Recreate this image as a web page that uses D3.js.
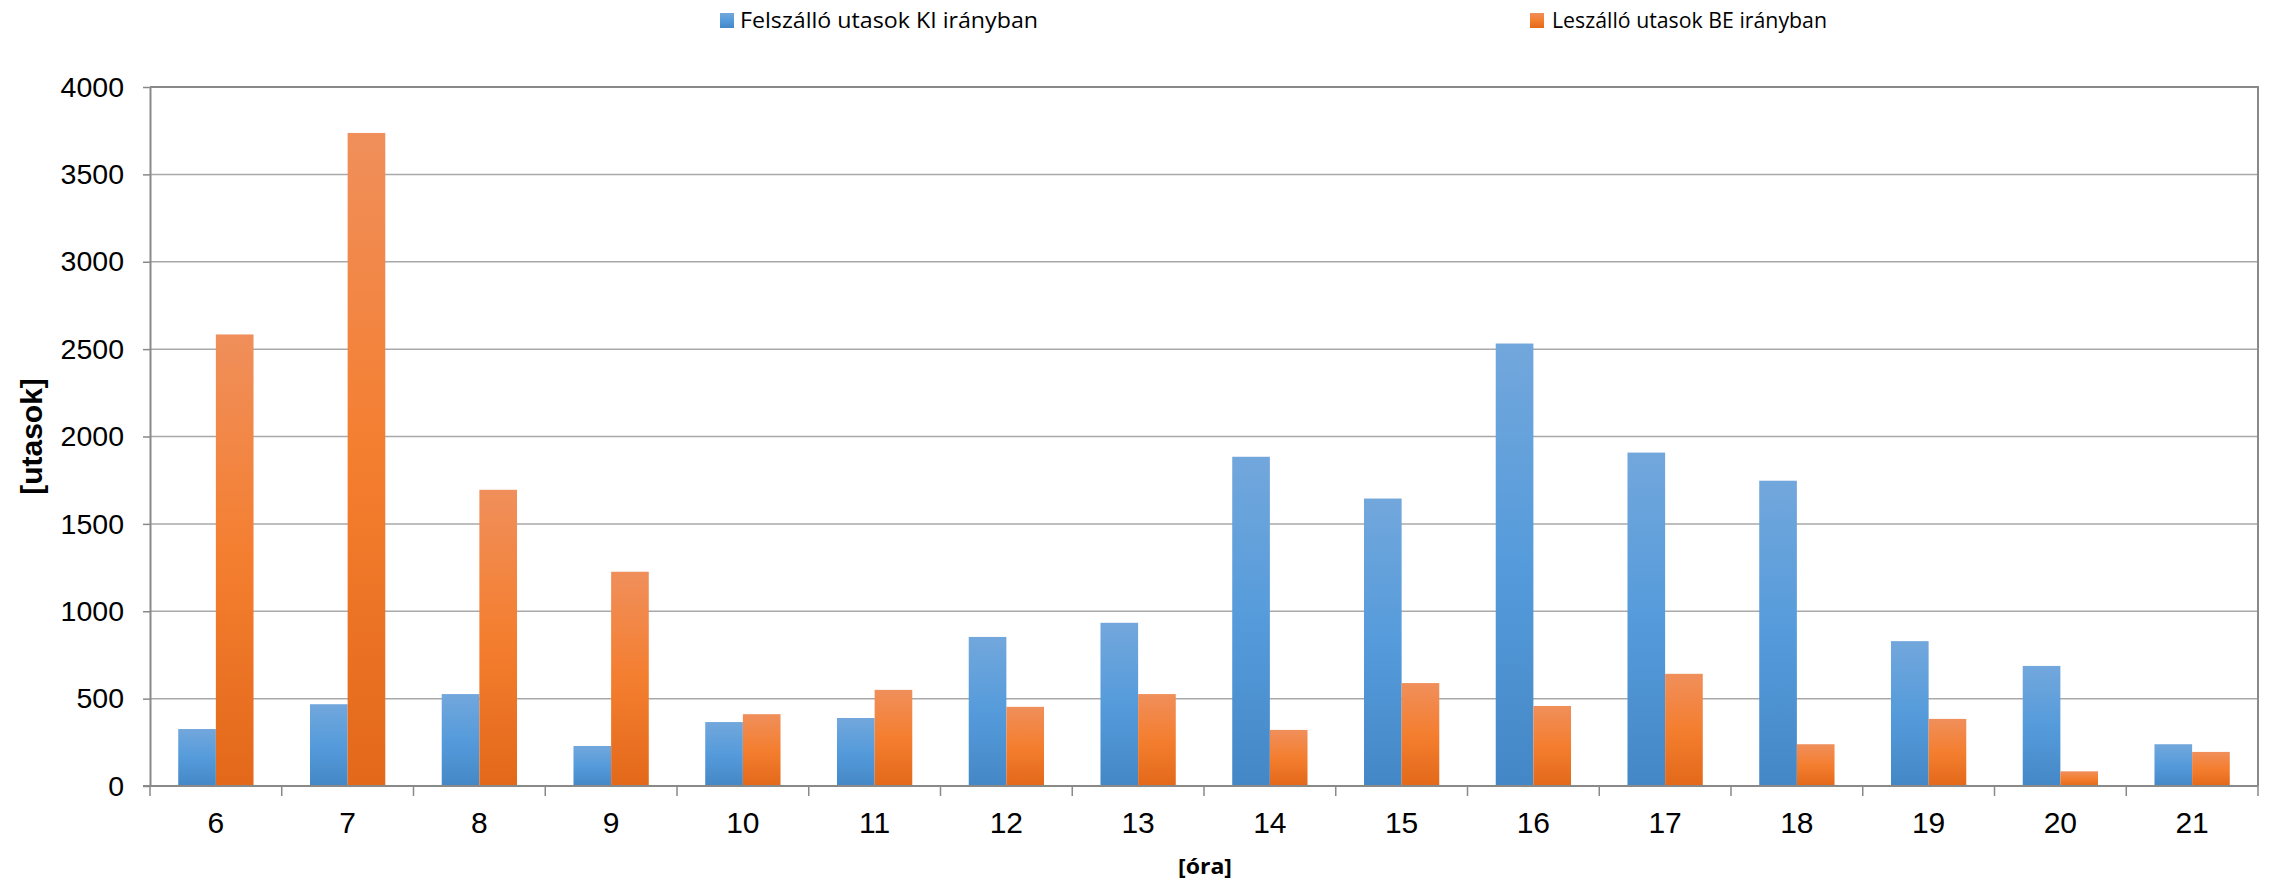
<!DOCTYPE html>
<html>
<head>
<meta charset="utf-8">
<script src="https://cdn.jsdelivr.net/npm/d3@7"></script>
<style>
  html, body { margin: 0; padding: 0; background: #ffffff; }
  svg { display: block; }
</style>
</head>
<body>
<svg id="chart" width="2277" height="885"></svg>
<script>
// Hourly passenger counts, boarding outbound vs. alighting inbound
const hours = ["6", "7", "8", "9", "10", "11", "12", "13", "14", "15", "16", "17", "18", "19", "20", "21"];
const boardingOut = [326, 468, 526, 229, 366, 389, 853, 934, 1884, 1645, 2532, 1908, 1747, 829, 687, 239];
const alightingIn = [2584, 3737, 1695, 1226, 411, 550, 453, 526, 321, 589, 458, 642, 239, 384, 84, 195];
const seriesNames = ["Felszálló utasok KI irányban", "Leszálló utasok BE irányban"];
const yTicks = [0, 500, 1000, 1500, 2000, 2500, 3000, 3500, 4000];

const svg = d3.select("#chart");
const plot = { left: 150, right: 2258, top: 87, bottom: 786 };

// Gradient fills for each series (light at the top, darker at the base)
const defs = svg.append("defs");
const gradStops = [
  [["0%", "#72a7dc"], ["50%", "#559bdb"], ["100%", "#4487c6"]],
  [["0%", "#f08f5b"], ["50%", "#f47e2f"], ["100%", "#e3681a"]]
];
gradStops.forEach((stops, i) => {
  const g = defs.append("linearGradient")
    .attr("id", "grad" + i)
    .attr("x1", 0).attr("y1", 0).attr("x2", 0).attr("y2", 1);
  stops.forEach(s => g.append("stop").attr("offset", s[0]).attr("stop-color", s[1]));
});

const y = d3.scaleLinear().domain([0, 4000]).range([plot.bottom, plot.top]);

// Category slots (no padding) for ticks and labels
const xSlot = d3.scaleBand().domain(hours).range([plot.left, plot.right]).padding(0);
// Bar groups: gap width of 150% of one bar
const xGroup = d3.scaleBand().domain(hours).range([plot.left, plot.right])
  .paddingInner(1.5 / 3.5).paddingOuter(0.75 / 3.5);
const xSeries = d3.scaleBand().domain([0, 1]).range([0, xGroup.bandwidth()]).padding(0);

// Horizontal gridlines
svg.append("g")
  .selectAll("line")
  .data(yTicks.filter(t => t > 0 && t < 4000))
  .join("line")
  .attr("x1", plot.left).attr("x2", plot.right)
  .attr("y1", d => y(d)).attr("y2", d => y(d))
  .attr("stroke", "#a9a9a9").attr("stroke-width", 1.5);

// Bars
const series = [boardingOut, alightingIn];
series.forEach((vals, si) => {
  svg.append("g")
    .selectAll("rect")
    .data(vals)
    .join("rect")
    .attr("x", (d, i) => xGroup(hours[i]) + xSeries(si))
    .attr("y", d => y(d))
    .attr("width", xSeries.bandwidth())
    .attr("height", d => y(0) - y(d))
    .attr("fill", "url(#grad" + si + ")");
});

// Plot frame (top and right edges)
svg.append("path")
  .attr("d", `M${plot.left},${y(4000)}H${plot.right}V${plot.bottom}`)
  .attr("fill", "none").attr("stroke", "#898989").attr("stroke-width", 2);

// Y axis
const yAxis = d3.axisLeft(y).tickValues(yTicks).tickFormat(d3.format("d"))
  .tickSize(7).tickPadding(19).tickSizeOuter(0);
const gy = svg.append("g").attr("transform", `translate(${plot.left},0)`).call(yAxis);
gy.select(".domain").attr("stroke", "#898989").attr("stroke-width", 2);
gy.selectAll(".tick line").attr("stroke", "#898989").attr("stroke-width", 1.5);
gy.selectAll(".tick text")
  .attr("font-family", "'Liberation Sans', Arial, sans-serif")
  .attr("font-size", 28.5).attr("fill", "#000");

// X axis: labels centred in each slot, ticks on the slot boundaries
const xAxis = d3.axisBottom(xSlot).tickSize(0).tickPadding(26).tickSizeOuter(0);
const gx = svg.append("g").attr("transform", `translate(0,${plot.bottom})`).call(xAxis);
gx.select(".domain").remove();
gx.selectAll(".tick text")
  .attr("font-family", "'Liberation Sans', Arial, sans-serif")
  .attr("font-size", 30).attr("fill", "#000");

const boundaries = hours.map(h => xSlot(h)).concat([plot.right]);
svg.append("g")
  .selectAll("line")
  .data(boundaries)
  .join("line")
  .attr("x1", d => d).attr("x2", d => d)
  .attr("y1", plot.bottom).attr("y2", plot.bottom + 10)
  .attr("stroke", "#898989").attr("stroke-width", 1.5);
svg.append("line")
  .attr("x1", plot.left - 7).attr("x2", plot.right)
  .attr("y1", plot.bottom).attr("y2", plot.bottom)
  .attr("stroke", "#898989").attr("stroke-width", 2);

// Axis titles
svg.append("text")
  .attr("transform", `translate(42,${(plot.top + plot.bottom) / 2}) rotate(-90)`)
  .attr("text-anchor", "middle")
  .attr("font-family", "'Liberation Sans', Arial, sans-serif")
  .attr("font-weight", "bold").attr("font-size", 30)
  .text("[utasok]");

svg.append("text")
  .attr("x", 1205).attr("y", 874)
  .attr("text-anchor", "middle")
  .attr("font-family", "'Open Sans', 'Noto Sans', sans-serif")
  .attr("font-weight", "bold").attr("font-size", 21)
  .attr("textLength", 54).attr("lengthAdjust", "spacingAndGlyphs")
  .text("[óra]");

// Legend
const legendItems = [
  { marker: 720, text: 740, width: 298 },
  { marker: 1530, text: 1552, width: 275 }
];
legendItems.forEach((it, i) => {
  svg.append("rect")
    .attr("x", it.marker).attr("y", 13).attr("width", 14).attr("height", 15)
    .attr("fill", "url(#grad" + i + ")");
  svg.append("text")
    .attr("x", it.text).attr("y", 28)
    .attr("font-family", "'Open Sans', 'Noto Sans', sans-serif")
    .attr("font-size", 21)
    .attr("textLength", it.width).attr("lengthAdjust", "spacingAndGlyphs")
    .attr("fill", "#000")
    .text(seriesNames[i]);
});
</script>
</body>
</html>
